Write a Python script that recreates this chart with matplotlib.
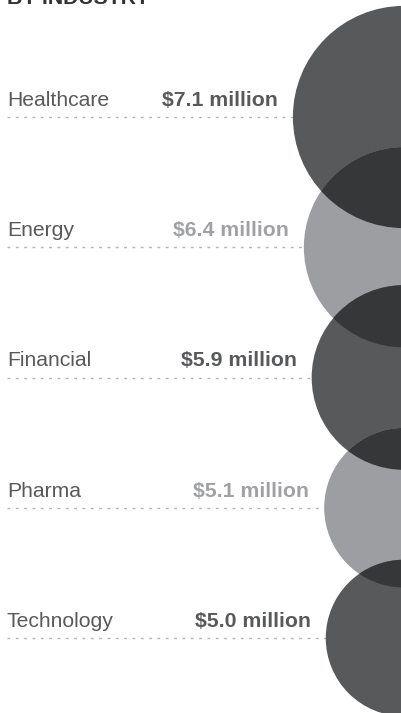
import matplotlib
matplotlib.use("Agg")
import matplotlib.pyplot as plt
from matplotlib.patches import Circle

plt.rcParams['font.family'] = ['Liberation Sans', 'DejaVu Sans']
plt.rcParams['lines.scale_dashes'] = False

title = "BY INDUSTRY"
industries = ["Healthcare", "Energy", "Financial", "Pharma", "Technology"]
values = [7.1, 6.4, 5.9, 5.1, 5.0]
value_labels = ["$7.1 million", "$6.4 million", "$5.9 million", "$5.1 million", "$5.0 million"]

W, H = 402, 713
fig = plt.figure(figsize=(W / 100, H / 100), dpi=100)
ax = fig.add_axes([0, 0, 1, 1])
ax.set_xlim(0, W)
ax.set_ylim(H, 0)
ax.axis('off')

dark = '#58595b'
light = '#9d9ea1'
overlap = '#363739'
dot_col = '#b3b3b3'

px_per_million = 15.65
cx = 404
y0, step = 117, 130.25

circles = []
for i, v in enumerate(values):
    y = y0 + step * i
    r = v * px_per_million
    col = dark if i % 2 == 0 else light
    c = Circle((cx, y), r, facecolor=col, edgecolor='none', zorder=2)
    ax.add_patch(c)
    circles.append(c)
    if i > 0:
        ov = Circle((cx, y), r, facecolor=overlap, edgecolor='none', zorder=3)
        ax.add_patch(ov)
        ov.set_clip_path(circles[i - 1])
    # dotted line
    ax.plot([7, cx - r], [y, y], color=dot_col, lw=1.0,
            dashes=(2.0, 4.0), zorder=1, solid_capstyle='butt', dash_capstyle='butt')
    ax.text(7, y - 11, industries[i], fontsize=15.2, color=dark,
            ha='left', va='baseline', zorder=4)
    vcol = dark if i % 2 == 0 else '#a0a1a4'
    ax.text(cx - r - 15, y - 11, value_labels[i], fontsize=15.3, color=vcol,
            fontweight='bold', ha='right', va='baseline', zorder=4)

ax.text(7, 3.5, title, fontsize=15.3, color='#333333', fontweight='bold',
        ha='left', va='baseline', zorder=4)

fig.savefig("out.png", dpi=100, facecolor='white')
